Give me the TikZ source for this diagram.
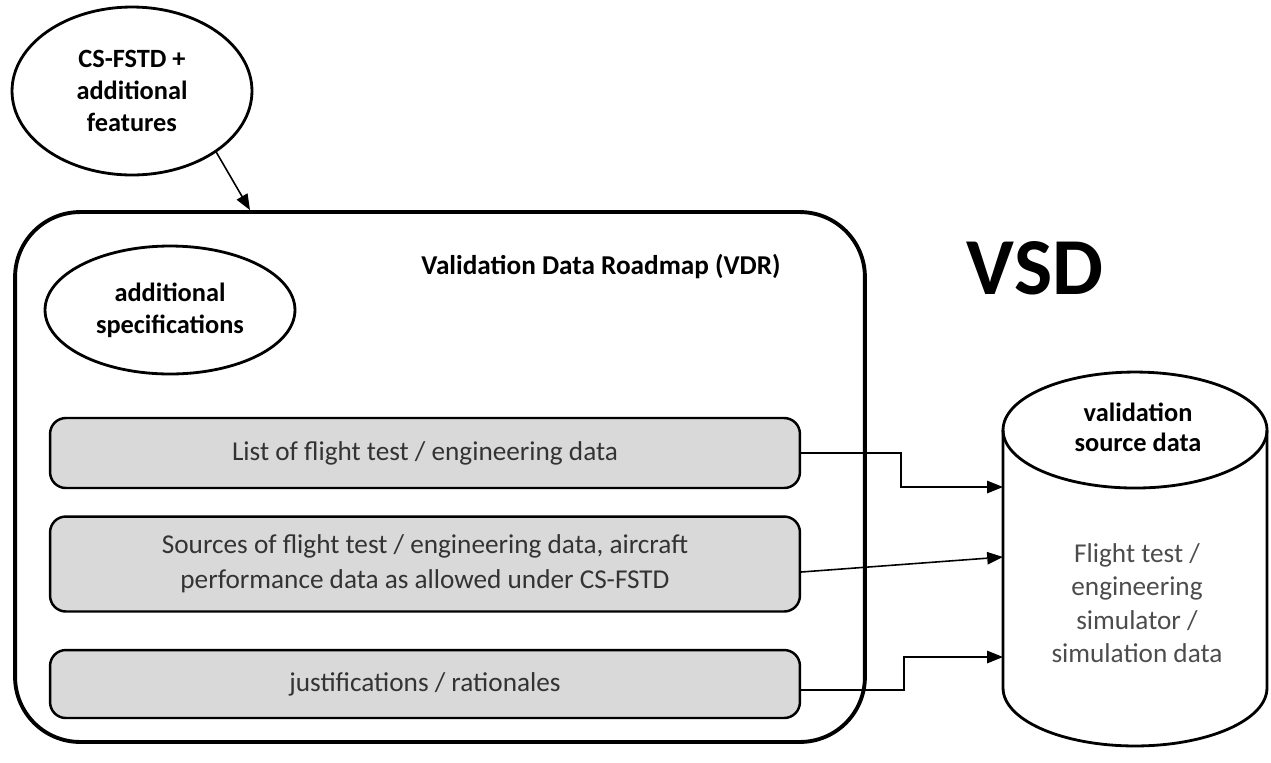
\documentclass[tikz,border=0pt]{standalone}
\usepackage{fontspec}
\setmainfont{Carlito}
\usetikzlibrary{shapes.geometric, arrows.meta, positioning}
\tikzset{
>={Triangle[length=9pt,width=7pt]}, % filled arrow heads
oval/.style={ellipse, draw, line width=1.6pt, align=center, inner sep=0pt,
  font=\bfseries\fontsize{15}{18}\selectfont},
itembox/.style={draw, line width=1.4pt, rounded corners=9pt, fill=gray!30,
  minimum width=15cm, align=center, text=black!80,
  font=\fontsize{15.5}{20}\selectfont},
link/.style={->, line width=0.9pt},
}
\begin{document}
\begin{tikzpicture}[x=0.02cm, y=-0.02cm]
\useasboundingbox (0,0) rectangle (1271,762);
% roadmap frame
\node[draw, line width=2.2pt, rounded corners=1.3cm, minimum width=17cm,
  minimum height=10.6cm] (vdr) at (440,477) {};
\node[font=\bfseries\fontsize{15.5}{18}\selectfont] (title) at (601,267)
  {Validation Data Roadmap (VDR)};
% ovals
\node[oval, minimum width=4.8cm, minimum height=3.36cm] (feat) at (132,91)
  {CS-FSTD +\\additional\\features};
\node[oval, minimum width=5cm, minimum height=2.56cm] (spec) at (170,310)
  {additional\\specifications};
% contents of the roadmap
\node[itembox, minimum height=1.4cm] (list) at (425,453)
  {List of flight test / engineering data};
\node[itembox, minimum height=1.9cm] (sources) at (425,564)
  {Sources of flight test / engineering data, aircraft\\performance data as allowed under CS-FSTD};
\node[itembox, minimum height=1.36cm] (just) at (425,684)
  {justifications / rationales};
% source data store (cylinder drawn round an empty node)
\node[minimum width=5.28cm, minimum height=7.48cm, inner sep=0pt, outer sep=0pt]
  (vsd) at (1135,559) {};
\draw[line width=1.6pt] ([yshift=-1.16cm]vsd.north west)
  -- ([yshift=1.16cm]vsd.south west)
  arc[start angle=180, end angle=360, x radius=2.64cm, y radius=1.16cm]
  -- ([yshift=-1.16cm]vsd.north east);
\draw[line width=1.6pt] ([yshift=-1.16cm]vsd.north) ellipse[x radius=2.64cm, y radius=1.16cm];
\node[font=\bfseries\fontsize{15}{17}\selectfont, align=center] (vsdtop)
  at (1138,427) {validation\\source data};
\node[font=\fontsize{15.5}{19}\selectfont, text=black!70, align=center] (vsdbody)
  at (1137,603) {Flight test /\\engineering\\simulator /\\simulation data};
\node[font=\bfseries\fontsize{46}{50}\selectfont] (vsdlabel) at (1035,268) {VSD};
\path (vsd.west) ++(0,-72) coordinate (in1)
      (vsd.west) ++(0,-2) coordinate (in2)
      (vsd.west) ++(0,98) coordinate (in3);
% connectors
\draw[link] (feat.south east) ++(-2,0) coordinate (featout) -- (vdr.north west -| 250,0);
\draw[link] (list.east) -- ++(100,0) |- (in1);
\draw[link] (sources.east) ++(0,8) coordinate (srcout) -- (in2);
\draw[link] (just.east) ++(0,6) coordinate (justout) -- ++(103,0) |- (in3);
\end{tikzpicture}
\end{document}
